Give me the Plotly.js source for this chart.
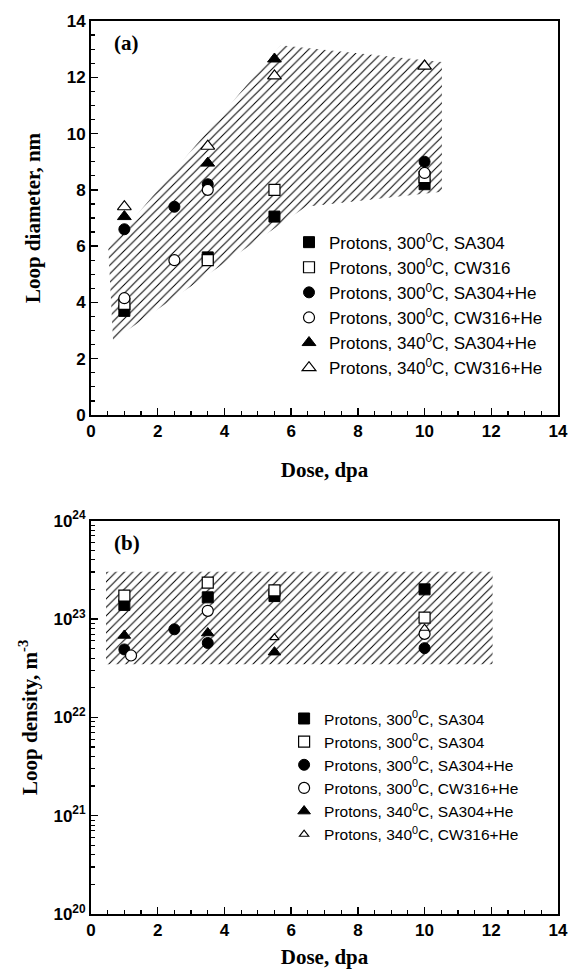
<!DOCTYPE html>
<html>
<head>
<meta charset="utf-8">
<script src="https://cdn.plot.ly/plotly-3.0.1.min.js"></script>
<style>html,body{margin:0;padding:0;background:#fff;}#chart{width:571px;height:969px;}</style>
</head>
<body>
<div id="chart"></div>
<script>
// ---------- Panel (a): loop diameter, nm ----------
const bandAX = [0.52, 5.68, 10.52, 10.52, 6.44, 0.66];
const bandAY = [5.92, 13.14, 12.54, 7.93, 7.40, 2.66];

const sqFilledAX = [1, 3.5, 5.5, 10];
const sqFilledAY = [3.7, 5.6, 7.05, 8.2];
const sqOpenAX = [1, 3.5, 5.5, 10];
const sqOpenAY = [3.95, 5.5, 8.0, 8.45];
const circFilledAX = [1, 2.5, 3.5, 10];
const circFilledAY = [6.6, 7.4, 8.2, 9.0];
const circOpenAX = [1, 2.5, 3.5, 10];
const circOpenAY = [4.15, 5.5, 8.0, 8.6];
const triFilledAX = [1, 3.5, 5.5];
const triFilledAY = [7.05, 8.95, 12.65];
const triOpenAX = [1, 3.5, 5.5, 10];
const triOpenAY = [7.4, 9.55, 12.05, 12.4];

const namesA = [
  "Protons, 300<sup>0</sup>C, SA304",
  "Protons, 300<sup>0</sup>C, CW316",
  "Protons, 300<sup>0</sup>C, SA304+He",
  "Protons, 300<sup>0</sup>C, CW316+He",
  "Protons, 340<sup>0</sup>C, SA304+He",
  "Protons, 340<sup>0</sup>C, CW316+He"
];

// ---------- Panel (b): loop density, m^-3 ----------
const bandBX = [0.45, 12.04, 12.04, 0.45];
const bandBY = [3.03e23, 3.03e23, 3.47e22, 3.47e22];

const sqFilledBX = [1, 3.5, 5.5, 10];
const sqFilledBY = [1.39e23, 1.66e23, 1.71e23, 2.0e23];
const sqOpenBX = [1, 3.5, 5.5, 10];
const sqOpenBY = [1.73e23, 2.34e23, 1.95e23, 1.03e23];
const circFilledBX = [1, 2.5, 3.5, 10];
const circFilledBY = [4.9e22, 7.85e22, 5.7e22, 5.05e22];
const circOpenBX = [1.2, 3.5, 10];
const circOpenBY = [4.25e22, 1.21e23, 7.05e22];
const triFilledBX = [1, 3.5, 5.5];
const triFilledBY = [6.8e22, 7.2e22, 4.6e22];
const triOpenBX = [5.5, 10];
const triOpenBY = [6.45e22, 8.05e22];

const namesB = [
  "Protons, 300<sup>0</sup>C, SA304",
  "Protons, 300<sup>0</sup>C, SA304",
  "Protons, 300<sup>0</sup>C, SA304+He",
  "Protons, 300<sup>0</sup>C, CW316+He",
  "Protons, 340<sup>0</sup>C, SA304+He",
  "Protons, 340<sup>0</sup>C, CW316+He"
];

// log-axis tick labels
const logTickVals = [1e20, 1e21, 1e22, 1e23, 1e24];
const logTickText = ["10<sup>20</sup>", "10<sup>21</sup>", "10<sup>22</sup>", "10<sup>23</sup>", "10<sup>24</sup>"];
// minor tick positions (2..9 within each decade)
const logMinorTicks = [];
[1e20, 1e21, 1e22, 1e23].forEach(function (d) {
  [2, 3, 4, 5, 6, 7, 8, 9].forEach(function (m) { logMinorTicks.push(d * m); });
});

// ---------- styling helpers ----------
const BLACK = "#000";
function filled(symbol, size) {
  return {symbol: symbol, size: size, color: BLACK, line: {color: BLACK, width: 1}};
}
function open(symbol, size) {
  return {symbol: symbol, size: size, color: "#fff", line: {color: BLACK, width: 1.2}};
}
function band(x, y, xa, ya) {
  return {
    x: x, y: y, xaxis: xa, yaxis: ya, type: "scatter", mode: "lines",
    fill: "toself", fillcolor: "rgba(0,0,0,0)",
    fillpattern: {shape: "/", fgcolor: BLACK, bgcolor: "rgba(0,0,0,0)", size: 6, solidity: 0.17},
    line: {width: 0, color: "rgba(0,0,0,0)"},
    showlegend: false, hoverinfo: "skip"
  };
}
function pts(x, y, name, marker, xa, ya, legend) {
  return {x: x, y: y, name: name, xaxis: xa, yaxis: ya, type: "scatter", mode: "markers",
          marker: marker, legend: legend};
}

const traces = [
  band(bandAX, bandAY, "x", "y"),
  pts(sqFilledAX, sqFilledAY, namesA[0], filled("square", 11), "x", "y", "legend"),
  pts(sqOpenAX, sqOpenAY, namesA[1], open("square", 11), "x", "y", "legend"),
  pts(circFilledAX, circFilledAY, namesA[2], filled("circle", 11), "x", "y", "legend"),
  pts(circOpenAX, circOpenAY, namesA[3], open("circle", 11), "x", "y", "legend"),
  pts(triFilledAX, triFilledAY, namesA[4], filled("triangle-up", 12), "x", "y", "legend"),
  pts(triOpenAX, triOpenAY, namesA[5], open("triangle-up", 12), "x", "y", "legend"),

  band(bandBX, bandBY, "x2", "y2"),
  pts(sqFilledBX, sqFilledBY, namesB[0], filled("square", 11), "x2", "y2", "legend2"),
  pts(sqOpenBX, sqOpenBY, namesB[1], open("square", 11), "x2", "y2", "legend2"),
  pts(circFilledBX, circFilledBY, namesB[2], filled("circle", 11), "x2", "y2", "legend2"),
  pts(circOpenBX, circOpenBY, namesB[3], open("circle", 11), "x2", "y2", "legend2"),
  pts(triFilledBX, triFilledBY, namesB[4], filled("triangle-up", 11), "x2", "y2", "legend2"),
  pts(triOpenBX, triOpenBY, namesB[5], open("triangle-up", 8), "x2", "y2", "legend2")
];

const tickFont = {family: "Liberation Sans, Arial, sans-serif", size: 17, color: BLACK, weight: "bold"};
const titleFont = {family: "Liberation Serif, Times New Roman, serif", size: 21, color: BLACK, weight: "bold"};

function linAxis(extra) {
  return Object.assign({
    showline: true, linecolor: BLACK, linewidth: 2, mirror: true,
    showgrid: false, zeroline: false,
    ticks: "inside", ticklen: 7, tickwidth: 1.3, tickcolor: BLACK,
    tickfont: tickFont, fixedrange: true
  }, extra);
}

const layout = {
  width: 571, height: 969,
  margin: {l: 91, r: 13, t: 21, b: 55},
  paper_bgcolor: "#fff", plot_bgcolor: "#fff",
  showlegend: true,
  xaxis: linAxis({
    anchor: "y", domain: [0, 1], range: [0, 14], dtick: 2, tick0: 0,
    minor: {dtick: 0.5, ticks: "inside", ticklen: 4, tickwidth: 1.2, tickcolor: BLACK, showgrid: false},
    title: {text: "Dose, dpa", font: titleFont, standoff: 22}
  }),
  yaxis: linAxis({
    anchor: "x", domain: [0.5588, 1], range: [0, 14], dtick: 2, tick0: 0,
    minor: {dtick: 0.5, ticks: "inside", ticklen: 4, tickwidth: 1.2, tickcolor: BLACK, showgrid: false},
    title: {text: "Loop diameter, nm", font: titleFont, standoff: 20}
  }),
  xaxis2: linAxis({
    anchor: "y2", domain: [0, 1], range: [0, 14], dtick: 2, tick0: 0,
    minor: {dtick: 0.5, ticks: "inside", ticklen: 4, tickwidth: 1.2, tickcolor: BLACK, showgrid: false},
    title: {text: "Dose, dpa", font: titleFont, standoff: 10}
  }),
  yaxis2: linAxis({
    anchor: "x2", domain: [0, 0.4405], type: "log", range: [20, 24],
    tickmode: "array", tickvals: logTickVals, ticktext: logTickText,
    minor: {tickmode: "array", tickvals: logMinorTicks, ticks: "inside", ticklen: 4, tickwidth: 1.2, tickcolor: BLACK, showgrid: false},
    title: {text: "Loop density, m<sup>-3</sup>", font: titleFont, standoff: 10}
  }),
  legend: {
    x: 0.424, y: 0.772, xanchor: "left", yanchor: "top",
    bgcolor: "rgba(0,0,0,0)", borderwidth: 0, itemclick: false,
    font: {family: "Liberation Sans, Arial, sans-serif", size: 17, color: BLACK}
  },
  legend2: {
    x: 0.4135, y: 0.2375, xanchor: "left", yanchor: "top",
    bgcolor: "rgba(0,0,0,0)", borderwidth: 0, itemclick: false,
    font: {family: "Liberation Sans, Arial, sans-serif", size: 15.5, color: BLACK}
  },
  annotations: [
    {text: "(a)", xref: "x domain", yref: "y domain", x: 0.077, y: 0.944,
     xanchor: "center", yanchor: "middle", showarrow: false,
     font: {family: "Liberation Serif, Times New Roman, serif", size: 21, color: BLACK, weight: "bold"}},
    {text: "(b)", xref: "x2 domain", yref: "y2 domain", x: 0.077, y: 0.943,
     xanchor: "center", yanchor: "middle", showarrow: false,
     font: {family: "Liberation Serif, Times New Roman, serif", size: 21, color: BLACK, weight: "bold"}}
  ]
};

Plotly.newPlot("chart", traces, layout, {displayModeBar: false, staticPlot: true});
</script>
</body>
</html>
